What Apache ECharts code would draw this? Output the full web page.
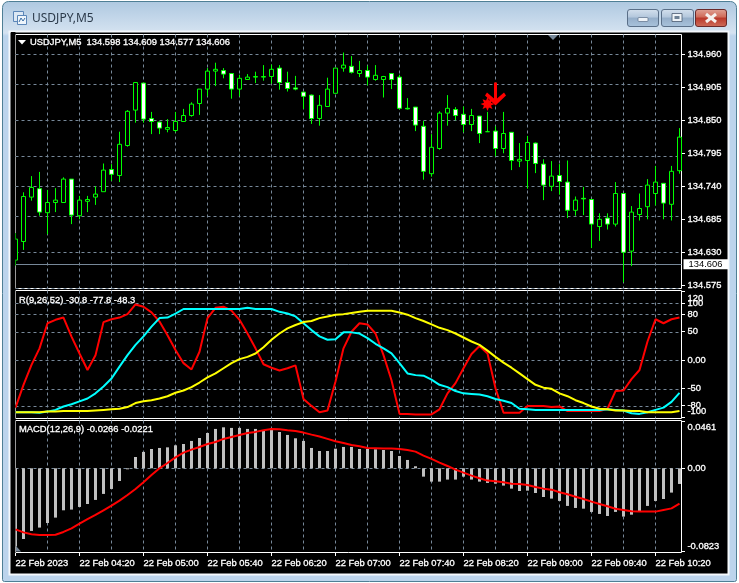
<!DOCTYPE html>
<html><head><meta charset="utf-8"><style>html,body{margin:0;padding:0;background:#fff;overflow:hidden}#c{width:739px;height:583px}</style>
<script src="https://cdn.jsdelivr.net/npm/echarts@6/dist/echarts.min.js"></script></head>
<body><div id="c"></div><script>
const opens=[134.617,134.648,134.722,134.736,134.696,134.713,134.713,134.752,134.691,134.715,134.722,134.731,134.768,134.758,134.808,134.867,134.912,134.853,134.847,134.835,134.833,134.848,134.858,134.878,134.902,134.932,134.933,134.928,134.902,134.918,134.922,134.922,134.923,134.937,134.913,134.904,134.897,134.892,134.853,134.873,134.895,134.937,134.940,134.928,134.933,134.918,134.918,134.928,134.922,134.870,134.872,134.840,134.761,134.803,134.862,134.868,134.860,134.843,134.857,134.831,134.832,134.803,134.830,134.782,134.783,134.812,134.777,134.740,134.758,134.747,134.700,134.720,134.718,134.673,134.687,134.677,134.728,134.632,134.693,134.706,134.728,134.745,134.710,134.766];
const closes=[134.652,134.723,134.738,134.697,134.713,134.717,134.752,134.692,134.717,134.718,134.727,134.767,134.760,134.810,134.865,134.913,134.852,134.848,134.837,134.838,134.848,134.858,134.877,134.902,134.932,134.935,134.927,134.902,134.920,134.922,134.923,134.923,134.935,134.913,134.903,134.902,134.890,134.853,134.875,134.902,134.937,134.942,134.930,134.933,134.922,134.925,134.923,134.918,134.870,134.869,134.842,134.765,134.805,134.862,134.870,134.858,134.843,134.858,134.828,134.831,134.803,134.828,134.783,134.785,134.813,134.778,134.742,134.757,134.748,134.700,134.717,134.719,134.677,134.685,134.677,134.728,134.630,134.697,134.703,134.742,134.747,134.712,134.765,134.822];
const lows=[134.608,134.634,134.716,134.691,134.660,134.697,134.713,134.677,134.685,134.697,134.709,134.731,134.749,134.747,134.806,134.846,134.846,134.827,134.827,134.830,134.830,134.848,134.856,134.859,134.890,134.907,134.920,134.886,134.890,134.918,134.912,134.916,134.911,134.901,134.898,134.900,134.869,134.844,134.841,134.873,134.895,134.931,134.928,134.922,134.908,134.916,134.888,134.902,134.868,134.868,134.832,134.751,134.756,134.801,134.841,134.850,134.830,134.832,134.812,134.831,134.790,134.795,134.767,134.772,134.736,134.762,134.717,134.732,134.726,134.687,134.691,134.692,134.637,134.649,134.668,134.673,134.580,134.607,134.683,134.685,134.708,134.685,134.683,134.761];
const highs=[134.662,134.730,134.757,134.764,134.734,134.737,134.755,134.752,134.724,134.724,134.740,134.778,134.777,134.831,134.867,134.913,134.912,134.864,134.848,134.852,134.864,134.869,134.880,134.902,134.937,134.946,134.937,134.928,134.926,134.927,134.931,134.942,134.943,134.942,134.931,134.924,134.897,134.893,134.892,134.921,134.937,134.963,134.957,134.949,134.941,134.942,134.924,134.928,134.926,134.887,134.872,134.849,134.827,134.865,134.892,134.872,134.873,134.869,134.857,134.864,134.840,134.864,134.830,134.812,134.824,134.813,134.785,134.782,134.777,134.783,134.723,134.739,134.718,134.695,134.695,134.747,134.728,134.707,134.728,134.752,134.774,134.745,134.774,134.837];
const rLine=[-83,-43,-8,21,65,71,75,41.5,12,-17,9,67,72,75,81,98,94,84,68,44,18,-5,-16,15,74,92,94,87,71,47,21,-7,-13,-18,-14,-9,-68,-80,-91,-88,-37,21,50,65,63,47,9,-35,-94,-94,-95,-95,-95,-86,-58,-40,-14,11,25,12,-49,-92,-92,-92,-80,-80,-80,-82,-81,-89,-89,-89,-89,-89,-85,-54,-53,-33,-17,33,72,65,72,75];
const cyanLine=[-91,-91,-91,-92,-90,-87,-81,-77,-72,-67,-58,-46,-32,-11,9,27,42,59,74,75,82,90,90,90,90,90,90,90,90,92,90,90,90,85,82,77,65,53,42,36,37,49,49,47,39,29,21,12,-5,-23,-26,-27,-34,-43,-47,-54,-58,-59,-60,-63,-68,-71,-75,-85,-86,-87,-87,-87,-87,-87,-87,-87,-87,-87,-86,-87,-88,-93,-94,-91,-87,-83,-73,-57];
const yellowLine=[-91,-91,-91,-91,-90,-90,-89,-89,-89,-89,-88,-87,-86,-85,-82,-75,-72,-70,-67,-63,-57,-53,-47,-39,-30,-23,-14,-5,2,6,12,23,36,47,56,62,67,69,74,77,80,81,83,85,87,87,87,87,84,80,74,69,63,57,53,47,40,33,27,17,6,-4,-13,-23,-33,-43,-48,-50,-58,-63,-70,-75,-81,-85,-86,-88,-88,-89,-89,-91,-91,-91,-91,-89];
const macdHist=[-0.0770,-0.0695,-0.0616,-0.0583,-0.0538,-0.0485,-0.0413,-0.0406,-0.0380,-0.0351,-0.0311,-0.0252,-0.0203,-0.0125,-0.0010,0.0111,0.0161,0.0190,0.0200,0.0206,0.0226,0.0239,0.0269,0.0298,0.0347,0.0387,0.0403,0.0397,0.0397,0.0387,0.0387,0.0374,0.0393,0.0357,0.0328,0.0295,0.0269,0.0200,0.0170,0.0170,0.0193,0.0210,0.0210,0.0190,0.0190,0.0187,0.0180,0.0170,0.0121,0.0082,0.0020,-0.0082,-0.0131,-0.0131,-0.0111,-0.0111,-0.0082,-0.0111,-0.0131,-0.0144,-0.0151,-0.0170,-0.0200,-0.0223,-0.0220,-0.0243,-0.0282,-0.0298,-0.0321,-0.0370,-0.0390,-0.0397,-0.0429,-0.0449,-0.0469,-0.0429,-0.0475,-0.0456,-0.0426,-0.0370,-0.0321,-0.0302,-0.0239,-0.0154];
const macdSignal=[-0.0600,-0.0630,-0.0649,-0.0656,-0.0656,-0.0653,-0.0626,-0.0590,-0.0544,-0.0499,-0.0459,-0.0413,-0.0367,-0.0318,-0.0262,-0.0203,-0.0138,-0.0066,0,0.0052,0.0108,0.0154,0.0184,0.0210,0.0239,0.0259,0.0289,0.0308,0.0328,0.0348,0.0358,0.0374,0.0387,0.0384,0.0374,0.0367,0.0351,0.0331,0.0312,0.0289,0.0266,0.0249,0.0230,0.0216,0.0200,0.0197,0.0194,0.0194,0.0190,0.0180,0.0164,0.0125,0.0092,0.0056,0.0023,-0.0013,-0.0043,-0.0072,-0.0098,-0.0121,-0.0128,-0.0138,-0.0151,-0.0154,-0.0164,-0.0184,-0.0200,-0.0210,-0.0236,-0.0256,-0.0279,-0.0302,-0.0328,-0.0351,-0.0374,-0.0397,-0.0410,-0.0423,-0.0426,-0.0426,-0.0426,-0.0410,-0.0394,-0.0348];
const timeTickBars=[0,8,16,24,32,40,48,56,64,72,80];
const timeLabels=['22 Feb 2023','22 Feb 04:20','22 Feb 05:00','22 Feb 05:40','22 Feb 06:20','22 Feb 07:00','22 Feb 07:40','22 Feb 08:20','22 Feb 09:00','22 Feb 09:40','22 Feb 10:20'];
const priceTicks=[134.960,134.905,134.850,134.795,134.740,134.685,134.630,134.575];
const rTicks=[120,50,100,80,0,-80,-50,-100];
const rGrid=[100,80,50,0,-50,-80];
const macdTicks=[0.0461,0,-0.0823];
const macdGrid=[0];
const lastPrice=134.606;
const arrowPoint=[60,134.894];
const starPoint=[59,134.877];
const symbolName='USDJPY,M5';
const mainHeader='USDJPY,M5  134.598 134.609 134.577 134.606';
const rHeader='R(9,26,52) -30.8 -77.8 -48.3';
const macdHeader='MACD(12,26,9) -0.0266 -0.0221';

const FONT='"Liberation Sans"';const FS=9.4;
const GRID='#778899';
const dash={color:GRID,type:[3,3],width:1};
const BOLD={textBorderColor:'#fff',textBorderWidth:0.3};
const xa=(g,lab)=>({type:'value',gridIndex:g,position:'bottom',min:0,max:83.25,interval:4,
  axisLine:{show:false},
  axisTick:{show:false},
  axisLabel:Object.assign({show:!!lab,customValues:timeTickBars,color:'#fff',fontFamily:FONT,fontSize:FS,align:'left',margin:6,hideOverlap:false,showMinLabel:true,showMaxLabel:true,
    formatter:v=>timeLabels[timeTickBars.indexOf(v)]||''},BOLD),
  splitLine:{show:true,showMinLine:false,showMaxLine:false,lineStyle:dash}});
const rs=p=>Object.assign({padding:p,fontFamily:FONT,fontSize:FS,color:'#fff'},BOLD);
const ya=(g,min,max,ticks,fmt)=>({type:'value',gridIndex:g,position:'right',min,max,
  axisLine:{show:false},splitLine:{show:false},
  axisTick:{show:false},
  axisLabel:Object.assign({customValues:ticks,color:'#fff',fontFamily:FONT,fontSize:FS,margin:6,formatter:fmt,hideOverlap:false,showMinLabel:true,showMaxLabel:true,
    rich:{dn:rs([12.5,0,0,0]),up:rs([0,0,11.5,0])}},BOLD)});
const hLines=vals=>({silent:true,symbol:'none',z:1,animation:false,label:{show:false},lineStyle:dash,data:vals.map(v=>({yAxis:v}))});
const idx=a=>a.map((v,i)=>[i,v]);
const line=(name,data,color)=>({name,type:'line',xAxisIndex:1,yAxisIndex:1,data:idx(data),showSymbol:false,symbol:'none',
  lineStyle:{color,width:2},itemStyle:{color},z:3,silent:true});
const S=(o)=>Object.assign({silent:true,z:-10},o);
const T=(text,x,y,fill,size,font,extra)=>({type:'text',z:20,silent:true,x,y,style:Object.assign({text,fill,fontFamily:font||FONT,fontSize:size||FS,textVerticalAlign:'middle',verticalAlign:'middle'},extra||{})});
const W={stroke:'#fff',lineWidth:0.3};
const grad=(stops)=>({type:'linear',x:0,y:0,x2:0,y2:1,colorStops:stops.map((c,i)=>({offset:c[0],color:c[1]}))});
const btn=(x,w,stops,border)=>S({type:'rect',z:5,shape:{x:x+.5,y:9.5,width:w,height:17,r:2.5},style:{fill:grad(stops),stroke:border,lineWidth:1}});
const blueBtn=[[0,'#d5e1ee'],[.45,'#b3c7dc'],[.5,'#95aec9'],[1,'#a9c3dc']];
const redBtn=[[0,'#e0a396'],[.45,'#cf6a58'],[.5,'#b9382a'],[1,'#cf6f5c']];
const chrome=[
  S({type:'rect',shape:{x:2.5,y:1.5,width:734,height:580,r:[6,6,2,2]},style:{fill:grad([[0,'#aec8e0'],[.055,'#d5e3f1'],[.06,'#bcd4ec'],[1,'#bcd4ec']]),stroke:'#4f7f95',lineWidth:1}}),
  S({type:'rect',shape:{x:9.5,y:31.5,width:719,height:543},style:{fill:'#000',stroke:'#f4f8fc',lineWidth:2}}),
  S({type:'rect',z:9,shape:{x:11,y:32,width:4.4,height:524},style:{fill:'#000'}}),
  btn(627,31,blueBtn,'#5a6f88'),btn(661,32,blueBtn,'#5a6f88'),btn(695,31,redBtn,'#6a2a2a'),
  S({type:'rect',z:6,shape:{x:638,y:17.5,width:10,height:4,r:1},style:{fill:'#eef3f8',stroke:'#5a6f88',lineWidth:.7}}),
  S({type:'rect',z:6,shape:{x:672,y:13.5,width:10,height:8},style:{fill:'#eef3f8',stroke:'#4a5a70',lineWidth:.8}}),
  S({type:'rect',z:7,shape:{x:674.5,y:16,width:5,height:3},style:{fill:'#6d8095'}}),
  S({type:'line',z:6,shape:{x1:706,y1:14,x2:716,y2:22},style:{stroke:'#f5f1ee',lineWidth:3}}),
  S({type:'line',z:6,shape:{x1:716,y1:14,x2:706,y2:22},style:{stroke:'#f5f1ee',lineWidth:3}}),
  S({type:'rect',z:6,shape:{x:13.5,y:11.5,width:10,height:10},style:{fill:'#dce8f4',stroke:'#5b86b8',lineWidth:1}}),
  S({type:'rect',z:7,shape:{x:17.5,y:15.5,width:9,height:9},style:{fill:'#eef5fb',stroke:'#5b86b8',lineWidth:1}}),
  S({type:'polyline',z:8,shape:{points:[[19,22],[21,18],[23,21],[25,18]]},style:{stroke:'#3a6ea5',fill:'none',lineWidth:1}}),
  T(symbolName,32,18.5,'#2b3a4a',12,'"Noto Sans"'),
  S({type:'polygon',z:20,shape:{points:[[18,40],[26,40],[22,44.5]]},style:{fill:'#fff'}}),
  T(mainHeader,30,42.5,'#fff',FS,FONT,W),T(rHeader,19,300,'#fff',FS,FONT,W),T(macdHeader,19,429.5,'#fff',FS,FONT,W),
  S({type:'polygon',z:20,shape:{points:[[548,35],[558,35],[553,40]]},style:{fill:GRID}}),
  S({type:'polygon',z:20,shape:{points:[[16,546],[21,551.5],[16,551.5]]},style:{fill:GRID}})
];
const opt={animation:false,backgroundColor:'#fff',
 grid:[{left:15.5,top:34.5,width:666,height:254},{left:15.5,top:290.5,width:666,height:128},{left:15.5,top:420.5,width:666,height:132}].map(g=>Object.assign(g,{show:true,backgroundColor:'#000',borderColor:'#fff',borderWidth:1,containLabel:false})),
 xAxis:[xa(0),xa(1),xa(2,true)],
 yAxis:[ya(0,134.56967,134.993,priceTicks,v=>v.toFixed(3)),
  ya(1,-102.1,122.46,rTicks,v=>v===120?'{dn|120}':v===-100?'{up|-100}':v===0?'0.00':String(v)),
  ya(2,-0.0828,0.0470,macdTicks,v=>v===0.0461?'{dn|0.0461}':v===-0.0823?'{up|-0.0823}':v===0?'0.00':String(v))],
 series:[
  {name:'grid',type:'line',xAxisIndex:0,yAxisIndex:0,data:[],z:1,markLine:Object.assign(hLines(priceTicks),{})},
  {name:'last',type:'line',xAxisIndex:0,yAxisIndex:0,data:[],z:1,markLine:{silent:true,symbol:'none',z:1,animation:false,lineStyle:{color:GRID,type:'solid',width:1},
    label:{show:true,position:'end',distance:2,formatter:()=>lastPrice.toFixed(3),backgroundColor:'#fff',color:'#000',fontFamily:FONT,fontSize:FS,padding:[1,6,0,5]},data:[{yAxis:lastPrice}]}},
  {name:'USDJPY,M5',type:'candlestick',xAxisIndex:0,yAxisIndex:0,barWidth:5,z:3,silent:true,
   encode:{x:0,y:[1,2,3,4]},
   data:opens.map((o,i)=>[i,o,closes[i],lows[i],highs[i]]),
   itemStyle:{color:'#000',color0:'#fff',borderColor:'#00ff00',borderColor0:'#00ff00',borderColorDoji:'#00ff00',borderWidth:1}},
  {name:'arrow',type:'scatter',xAxisIndex:0,yAxisIndex:0,z:6,silent:true,data:[arrowPoint],symbolSize:[21,23],
   symbol:'path://M9 0L12 0L12 16L19 10L21 13L10.5 23L0 13L2 10L9 16Z',itemStyle:{color:'#ff0000',opacity:1}},
  {name:'star',type:'scatter',xAxisIndex:0,yAxisIndex:0,z:6,silent:true,data:[starPoint],symbolSize:14,
   symbol:'path://M12 0L14.5 6L20.5 3.5L18 9.5L24 12L18 14.5L20.5 20.5L14.5 18L12 24L9.5 18L3.5 20.5L6 14.5L0 12L6 9.5L3.5 3.5L9.5 6Z',itemStyle:{color:'#ff0000',opacity:1}},
  Object.assign(line('R',rLine,'#ff0000'),{markLine:hLines(rGrid)}),
  line('R2',cyanLine,'#00ffff'),
  line('R3',yellowLine,'#ffff00'),
  {name:'MACD',type:'bar',xAxisIndex:2,yAxisIndex:2,barWidth:3,z:2,silent:true,data:idx(macdHist),itemStyle:{color:'#c0c0c0'},markLine:hLines(macdGrid)},
  {name:'Signal',type:'line',xAxisIndex:2,yAxisIndex:2,data:idx(macdSignal),showSymbol:false,symbol:'none',lineStyle:{color:'#ff0000',width:2},z:3,silent:true}
 ],
 graphic:{elements:chrome}
};
const chart=echarts.init(document.getElementById('c'),null,{renderer:'canvas'});
chart.setOption(opt);
// Tick marks positioned through the axes' own scales.
const tickLine=(x1,y1,x2,y2)=>({type:'line',z:20,silent:true,shape:{x1,y1,x2,y2},style:{stroke:'#fff',lineWidth:1}});
const snap=v=>Math.floor(v)+.5;
const ticks=[];
[priceTicks,rTicks,macdTicks].forEach((list,g)=>list.forEach(v=>{
  const y=snap(chart.convertToPixel({yAxisIndex:g},v));
  ticks.push(tickLine(682,y,685,y));
}));
timeTickBars.forEach(b=>{
  const x=snap(chart.convertToPixel({xAxisIndex:2},b));
  ticks.push(tickLine(x,553,x,556));
});
chart.setOption({graphic:{elements:chrome.concat(ticks)}});
</script></body></html>
